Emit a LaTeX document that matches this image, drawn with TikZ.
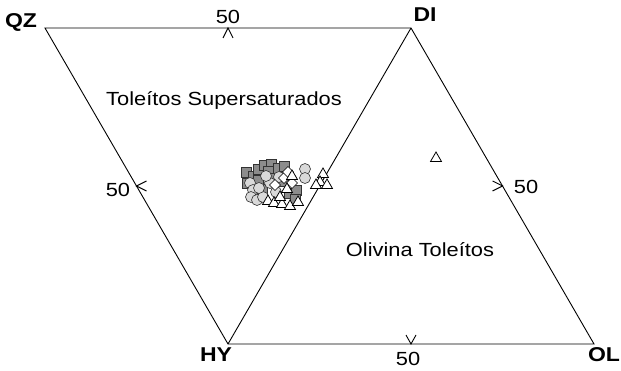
\documentclass[tikz,border=0pt]{standalone}
\usepackage{fontspec}
\setmainfont{Liberation Sans}
\usetikzlibrary{calc}
\tikzset{
  edge/.style={line width=0.9pt},
  vertex/.style={font=\fontsize{20}{22}\selectfont\bfseries, xscale=1.15, transform shape},
  lbl/.style={font=\fontsize{19}{21}\selectfont, xscale=1.15, transform shape},
  sqmark/.style={fill=black!45, draw=black!80, line width=0.6pt},
  cirmark/.style={fill=black!15, draw=black!80, line width=0.6pt},
  trimark/.style={fill=white, draw=black, line width=0.8pt},
  dmdmark/.style={fill=white, draw=black, line width=0.6pt}
}
\begin{document}
\begin{tikzpicture}[x=1pt,y=-1pt]
		\useasboundingbox[fill=white] (0,0) rectangle (621,371);

		\coordinate (qz) at (45,28);
		\coordinate (di) at (411,28);
		\coordinate (hy) at (228,344);
		\coordinate (ol) at (594,344);

		\draw[edge] (qz) -- (di) -- (ol) -- (hy) -- cycle;
		\draw[edge] (di) -- (hy);

		% 50% marks
		\coordinate (mtop) at ($(qz)!.5!(di)$);
		\coordinate (mleft) at ($(qz)!.5!(hy)$);
		\coordinate (mright) at ($(di)!.5!(ol)$);
		\coordinate (mbot) at ($(hy)!.5!(ol)$);
		\draw[edge] (mtop) ++(-5,10) -- ++(5,-10) -- ++(5,10);
		\draw[edge] (mleft) ++(10,-5) -- ++(-10,5) -- ++(10,5);
		\draw[edge] (mright) ++(-10,-5) -- ++(10,5) -- ++(-10,5);
		\draw[edge] (mbot) ++(-5,-9) -- ++(5,9) -- ++(5,-9);

		\node[lbl] (ntop) at (228,17) {50};
		\node[lbl] (nleft) at (118,190) {50};
		\node[lbl] (nright) at (526,187) {50};
		\node[lbl] (nbot) at (408,359) {50};

		\node[vertex] (qzl) at (21,22) {QZ};
		\node[vertex] (dil) at (425,15) {DI};
		\node[vertex] (hyl) at (216,355) {HY};
		\node[vertex] (oll) at (604,355) {OL};

		\node[lbl] (supsat) at (224,100) {Toleítos Supersaturados};
		\node[lbl] (olitol) at (420,250) {Olivina Toleítos};

		% samples
		\foreach \x/\y in {246/172,253/176,258/169,264/165,271/164,278/168,284/166,268/171,
			258/180,247/183,262/189,274/178,283/181,289/193,296/190,295/199}
			\draw[sqmark] (\x-5,\y-5) rectangle (\x+5,\y+5);
		\foreach \x/\y in {305/169,305/178,279/177,250/183,253/190,251/197,257/200,263/197,
			270/183,259/188,276/192,266/176}
			\draw[cirmark] (\x,\y) circle (5.5);
		\foreach \x/\y in {284/178,292/183,288/172,275/185}
			\draw[dmdmark] (\x,\y-5.5) -- (\x+5.5,\y) -- (\x,\y+5.5) -- (\x-5.5,\y) -- cycle;
		\foreach \x/\y in {268/200,274/202,282/203,290/205,298/201,287/188,292/175,280/196,
			323/173,320/181,327/184,316/184,436/157}
			\draw[trimark] (\x-5.5,\y+4.5) -- (\x,\y-5) -- (\x+5.5,\y+4.5) -- cycle;

	\end{tikzpicture}
\end{document}
